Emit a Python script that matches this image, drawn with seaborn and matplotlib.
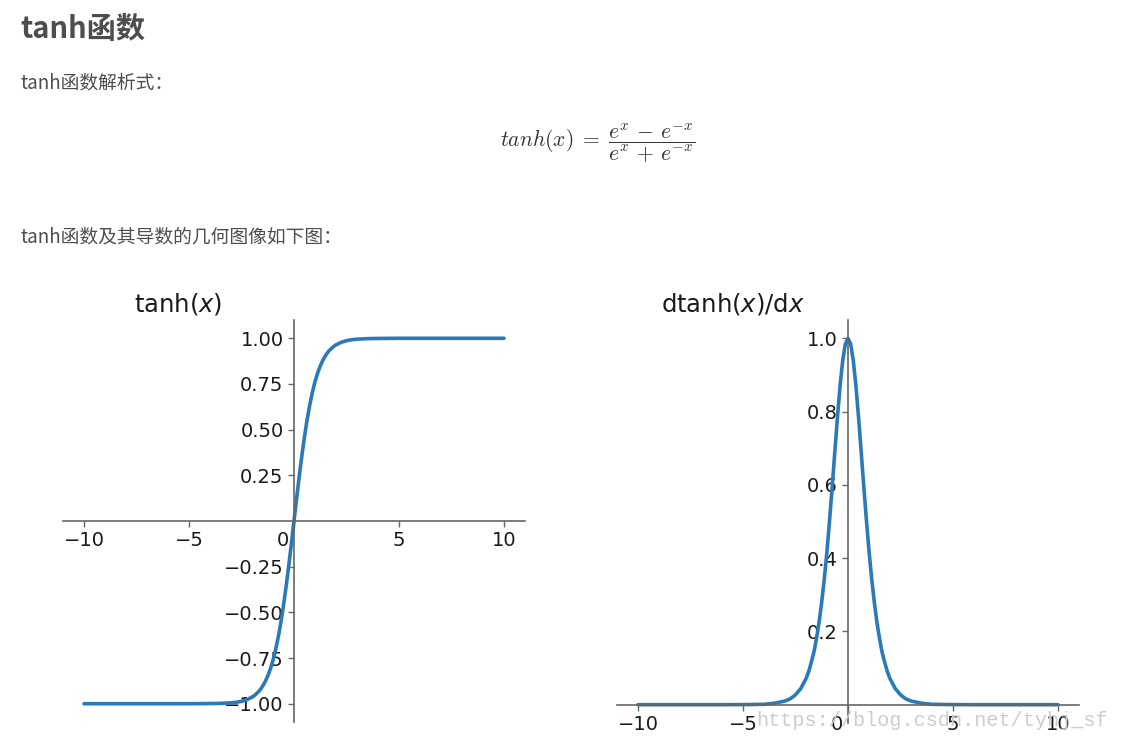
import pandas as pd
import matplotlib
matplotlib.use("Agg")
import matplotlib.pyplot as plt
import matplotlib.transforms as mtransforms
import seaborn as sns

# --- values ---
x_vals = [-10, -8, -6, -5, -4, -3.5, -3, -2.75, -2.5, -2.25, -2, -1.875, -1.75, -1.625,
          -1.5, -1.375, -1.25, -1.125, -1, -0.875, -0.75, -0.625, -0.5, -0.375, -0.25,
          -0.125, 0, 0.125, 0.25, 0.375, 0.5, 0.625, 0.75, 0.875, 1, 1.125, 1.25,
          1.375, 1.5, 1.625, 1.75, 1.875, 2, 2.25, 2.5, 2.75, 3, 3.5, 4, 5, 6, 8, 10]
tanh_vals = [-1.0, -1.0, -1.0, -1.0, -0.999, -0.998, -0.995, -0.992, -0.987, -0.978,
             -0.964, -0.954, -0.941, -0.926, -0.905, -0.880, -0.848, -0.810, -0.762,
             -0.704, -0.635, -0.555, -0.462, -0.358, -0.245, -0.124, 0.0,
             0.124, 0.245, 0.358, 0.462, 0.555, 0.635, 0.704, 0.762, 0.810, 0.848,
             0.880, 0.905, 0.926, 0.941, 0.954, 0.964, 0.978, 0.987, 0.992, 0.995,
             0.998, 0.999, 1.0, 1.0, 1.0, 1.0]
dtanh_vals = [0.0, 0.0, 0.0, 0.0002, 0.001, 0.004, 0.010, 0.016, 0.027, 0.044, 0.071,
              0.090, 0.115, 0.143, 0.181, 0.226, 0.281, 0.345, 0.420, 0.505, 0.597,
              0.692, 0.786, 0.872, 0.940, 0.985, 1.0, 0.985, 0.940, 0.872, 0.786,
              0.692, 0.597, 0.505, 0.420, 0.345, 0.281, 0.226, 0.181, 0.143, 0.115,
              0.090, 0.071, 0.044, 0.027, 0.016, 0.010, 0.004, 0.001, 0.0002, 0.0,
              0.0, 0.0]

tanh_yticks = [-1.0, -0.75, -0.5, -0.25, 0.25, 0.5, 0.75, 1.0]
dtanh_yticks = [0.2, 0.4, 0.6, 0.8, 1.0]
xticks = [-10, -5, 0, 5, 10]

df = pd.DataFrame({"x": x_vals, "tanh": tanh_vals, "dtanh": dtanh_vals})

sns.set_style("white")
plt.rcParams["font.family"] = ["DejaVu Sans"]
plt.rcParams["mathtext.fontset"] = "dejavusans"

fig = plt.figure(figsize=(11.45, 7.42), dpi=100)

# --- page text ---
cjk = ["Noto Sans CJK SC", "DejaVu Sans"]
text_color = "#4d4d4d"
fig.text(20 / 1145, 1 - 29 / 742, "tanh函数", family=cjk, fontsize=21,
         weight="bold", color=text_color, va="center", ha="left")
fig.text(21 / 1145, 1 - 83 / 742, "tanh函数解析式：", family=cjk, fontsize=13.5,
         color=text_color, va="center", ha="left")
fig.text(598 / 1145, 1 - 143 / 742,
         r"$\mathit{tanh}(x)\;=\;\dfrac{e^x\,-\,e^{-x}}{e^x\,+\,e^{-x}}$",
         fontsize=15.5, color="#333333", va="center", ha="center",
         math_fontfamily="cm")
fig.text(21 / 1145, 1 - 237 / 742, "tanh函数及其导数的几何图像如下图：", family=cjk,
         fontsize=13.5, color=text_color, va="center", ha="left")

line_color = "#2a7ab7"
spine_color = "#666666"


def style_axes(ax, yticks, fmt):
    ax.spines["left"].set_position("zero")
    ax.spines["bottom"].set_position("zero")
    ax.spines["top"].set_visible(False)
    ax.spines["right"].set_visible(False)
    for s in ("left", "bottom"):
        ax.spines[s].set_color(spine_color)
        ax.spines[s].set_linewidth(1.2)
    ax.set_xticks(xticks)
    ax.set_xticklabels([str(t) if t >= 0 else "\u2212" + str(-t) for t in xticks])
    ax.set_yticks(yticks)
    ax.set_yticklabels([(fmt % v).replace("-", "\u2212") for v in yticks])
    ax.tick_params(axis="both", labelsize=14, length=4, width=1, colors=spine_color,
                   labelcolor="#1a1a1a", direction="out", bottom=True, left=True)
    ax.set_xlabel("")
    ax.set_ylabel("")
    # the "0" label sits left of the vertical spine in the reference
    shift = mtransforms.ScaledTranslation(-0.11, 0, fig.dpi_scale_trans)
    lab = ax.get_xticklabels()[xticks.index(0)]
    lab.set_transform(lab.get_transform() + shift)


ax1 = fig.add_axes([63 / 1145, 1 - 722 / 742, 462 / 1145, 402 / 742])
sns.lineplot(data=df, x="x", y="tanh", ax=ax1, color=line_color, linewidth=2.6)
ax1.set_xlim(-11, 11)
ax1.set_ylim(-1.1, 1.1)
style_axes(ax1, tanh_yticks, "%.2f")
ax1.set_title("tanh($x$)", x=0.25, fontsize=17.5, color="#1a1a1a", pad=6)

ax2 = fig.add_axes([617 / 1145, 1 - 723 / 742, 462 / 1145, 403 / 742])
sns.lineplot(data=df, x="x", y="dtanh", ax=ax2, color=line_color, linewidth=2.6)
ax2.set_xlim(-11, 11)
ax2.set_ylim(-0.05, 1.05)
style_axes(ax2, dtanh_yticks, "%.1f")
ax2.set_title("dtanh($x$)/d$x$", x=0.25, fontsize=17.5, color="#1a1a1a", pad=6)

# watermark
fig.text(756 / 1145, 1 - 721 / 742, "https://blog.csdn.net/tyhj_sf",
         family="Liberation Mono", fontsize=14.5, color="#cccccc",
         va="center", ha="left")

fig.savefig("out.png", dpi=100, facecolor="white")
